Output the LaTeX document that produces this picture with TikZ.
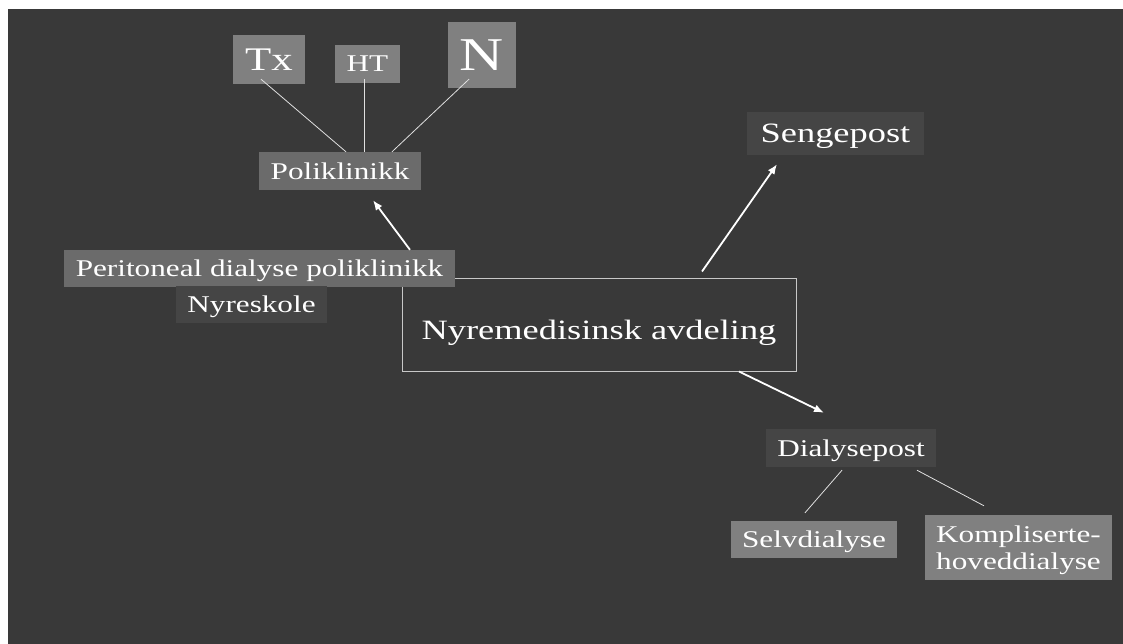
\documentclass[tikz,border=0pt]{standalone}
\usepackage{fontspec}
\setmainfont{Liberation Serif}[FakeStretch=1.3]
\usepackage{tikz}
\usetikzlibrary{arrows.meta}
\definecolor{bgdark}{HTML}{393939}
\definecolor{boxlight}{HTML}{808080}
\definecolor{boxmid}{HTML}{6B6B6B}
\definecolor{boxdim}{HTML}{454545}
\definecolor{framegray}{HTML}{C8C8C8}
\begin{document}
\begin{tikzpicture}[x=1pt,y=-1pt,
  box/.style={fill=#1,text=white,inner sep=0pt,text depth=0pt,align=center,
    font=\fontsize{24}{27}\selectfont},
  twig/.style={draw=white!88!black,line width=0.8pt},
  push/.style={draw=white,line width=1.8pt,-{Latex[length=10pt,width=8pt]}}]
  \useasboundingbox (0,0) rectangle (1123,644);
  \fill[white] (0,0) rectangle (1123,644);
  \fill[bgdark] (8,9) rectangle (1123,644);

  \node (main) at (599,324.5)[draw=framegray,line width=1pt,text=white,inner sep=0pt,
    minimum width=394pt,minimum height=93pt,text height=35pt,text depth=6pt,
    font=\fontsize{28}{32}\selectfont]{Nyremedisinsk avdeling};

  \node (tx) at (269,59.5)[box=boxlight,minimum width=72pt,minimum height=49pt,
    font=\fontsize{33}{36}\selectfont]{Tx};
  \node (ht) at (367.5,64)[box=boxlight,minimum width=65pt,minimum height=38pt]{HT};
  \node (n) at (482,55)[box=boxlight,minimum width=68pt,minimum height=66pt,
    font=\fontsize{47}{50}\selectfont]{N};
  \node (poli) at (340,171)[box=boxmid,minimum width=162pt,minimum height=38pt]{Poliklinikk};
  \node (peri) at (259.5,268.5)[box=boxmid,minimum width=391pt,minimum height=37pt]{Peritoneal dialyse poliklinikk};
  \node (skole) at (251.5,304.5)[box=boxdim,minimum width=151pt,minimum height=37pt]{Nyreskole};
  \node (seng) at (835.5,133.5)[box=boxdim,minimum width=177pt,minimum height=43pt,
    font=\fontsize{28}{32}\selectfont]{Sengepost};
  \node (dial) at (851,448)[box=boxdim,minimum width=170pt,minimum height=38pt]{Dialysepost};
  \node (selv) at (814,539.5)[box=boxlight,minimum width=166pt,minimum height=37pt]{Selvdialyse};
  \node (kompl) at (1018.5,547.5)[box=boxlight,minimum width=187pt,minimum height=65pt]{Kompliserte-\\hoveddialyse};

  % poliklinikk branches
  \draw[twig] ([xshift=-8pt,yshift=5pt]tx.south) -- ([xshift=6pt]poli.north);
  \draw[twig] ([xshift=-3.5pt,yshift=4pt]ht.south) -- ([xshift=24pt]poli.north);
  \draw[twig] ([xshift=-13pt,yshift=9pt]n.south) -- ([xshift=52pt]poli.north);

  % arrows
  \draw[push] ([xshift=150.5pt]peri.north) -- ([xshift=33pt,yshift=-10pt]poli.south);
  \draw[push] ([xshift=103pt,yshift=6pt]main.north) -- ([xshift=-58.5pt,yshift=-9pt]seng.south);
  \draw[push] ([xshift=140pt]main.south) -- ([xshift=-27pt,yshift=16pt]dial.north);

  % dialysepost branches
  \draw[twig] ([xshift=-9pt,yshift=-3pt]dial.south) -- ([xshift=-9pt,yshift=8pt]selv.north);
  \draw[twig] ([xshift=66pt,yshift=-3pt]dial.south) -- ([xshift=-34.5pt,yshift=9pt]kompl.north);
\end{tikzpicture}
\end{document}
